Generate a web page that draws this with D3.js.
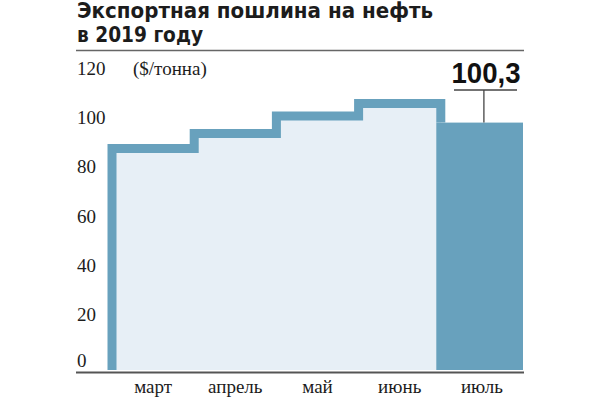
<!DOCTYPE html>
<html>
<head>
<meta charset="utf-8">
<script src="https://cdn.jsdelivr.net/npm/d3@7"></script>
<style>
  body { margin: 0; background: #fff; }
  svg { display: block; }
</style>
</head>
<body>
<svg></svg>
<script>
const months = ["март", "апрель", "май", "июнь", "июль"];
const duty = [89.8, 95.9, 103.0, 108.0, 100.3];
const yTicks = [0, 20, 40, 60, 80, 100, 120];
const titleLines = ["Экспортная пошлина на нефть", "в 2019 году"];
const unitLabel = "($/тонна)";
const lastLabel = "100,3";

const w = 600;
const h = 398;
const dark = "#68a1bd";
const light = "#e7eff6";
const sw = 9; // outline thickness

const svg = d3.select("svg")
    .attr("width", w)
    .attr("height", h);

// scales
const x = d3.scaleBand().domain(months).range([112, 523]).padding(0);
const y = d3.scaleLinear().domain([0, 120]).range([370, 74]);
const bw = x.bandwidth();

// title
const titleWidths = [356, 126];
svg.selectAll("text.title")
    .data(titleLines)
    .enter()
    .append("text")
    .attr("class", "title")
    .attr("x", 77)
    .attr("y", (d, i) => 17.5 + i * 24.5)
    .attr("font-family", "DejaVu Sans, sans-serif")
    .attr("font-weight", "bold")
    .attr("font-size", 20.5)
    .attr("textLength", (d, i) => titleWidths[i])
    .attr("lengthAdjust", "spacingAndGlyphs")
    .attr("fill", "#1c1c1c")
    .text(d => d);

svg.append("line")
    .attr("x1", 76).attr("x2", 524)
    .attr("y1", 50.5).attr("y2", 50.5)
    .attr("stroke", "#666")
    .attr("stroke-width", 1.6);

// step outline for the first four months, the last month is a solid bar
const past = months.slice(0, 4);
const last = months[4];
const pts = [[x(past[0]), y(0)]];
past.forEach((m, i) => {
    pts.push([x(m), y(duty[i])]);
    pts.push([x(m) + bw, y(duty[i])]);
});
pts.push([x(last), y(duty[4])]);

const line = d3.line();

svg.append("path")
    .attr("d", line(pts.concat([[x(last), y(0)]])) + "Z")
    .attr("fill", light);

svg.append("rect")
    .attr("x", x(last) - sw / 2)
    .attr("y", y(duty[4]))
    .attr("width", bw + sw / 2)
    .attr("height", y(0) - y(duty[4]))
    .attr("fill", dark);

svg.append("path")
    .attr("d", line(pts))
    .attr("fill", "none")
    .attr("stroke", dark)
    .attr("stroke-width", sw)
    .attr("stroke-linejoin", "miter");

// callout for the last value
const cx = x(last) + bw / 2 + 2;
svg.append("line")
    .attr("x1", cx).attr("x2", cx)
    .attr("y1", y(duty[4])).attr("y2", 90)
    .attr("stroke", "#444").attr("stroke-width", 1.3);
svg.append("line")
    .attr("x1", 454).attr("x2", 517)
    .attr("y1", 90).attr("y2", 90)
    .attr("stroke", "#444").attr("stroke-width", 1.3);
svg.append("text")
    .attr("x", 486)
    .attr("y", 83.3)
    .attr("text-anchor", "middle")
    .attr("font-family", "Liberation Sans Narrow, Arial Narrow, Liberation Sans, sans-serif")
    .attr("font-weight", "bold")
    .attr("font-size", 30)
    .attr("textLength", 69)
    .attr("lengthAdjust", "spacingAndGlyphs")
    .attr("fill", "#111")
    .text(lastLabel);

// axes
const yAxis = d3.axisLeft(y).tickValues(yTicks).tickSize(0).tickFormat(d3.format("d"));
const gy = svg.append("g")
    .attr("transform", "translate(77,0)")
    .call(yAxis);
gy.select(".domain").remove();
gy.selectAll("text")
    .attr("x", 0)
    .attr("dy", d => d === 0 ? -4 : 0)
    .attr("text-anchor", "start")
    .attr("font-family", "Liberation Serif, Times New Roman, serif")
    .attr("font-size", 19)
    .attr("fill", "#1c1c1c");

svg.append("text")
    .attr("x", 133)
    .attr("y", 75)
    .attr("font-family", "Liberation Serif, Times New Roman, serif")
    .attr("font-size", 19)
    .attr("fill", "#1c1c1c")
    .text(unitLabel);

const xAxis = d3.axisBottom(x).tickSize(0).tickPadding(7);
const gx = svg.append("g")
    .attr("transform", "translate(0,372.5)")
    .call(xAxis);
gx.select(".domain").remove();
gx.selectAll("text")
    .attr("font-family", "Liberation Serif, Times New Roman, serif")
    .attr("font-size", 19)
    .attr("fill", "#1c1c1c");

svg.append("line")
    .attr("x1", 76).attr("x2", 524)
    .attr("y1", 372.5).attr("y2", 372.5)
    .attr("stroke", "#555")
    .attr("stroke-width", 2);
</script>
</body>
</html>
